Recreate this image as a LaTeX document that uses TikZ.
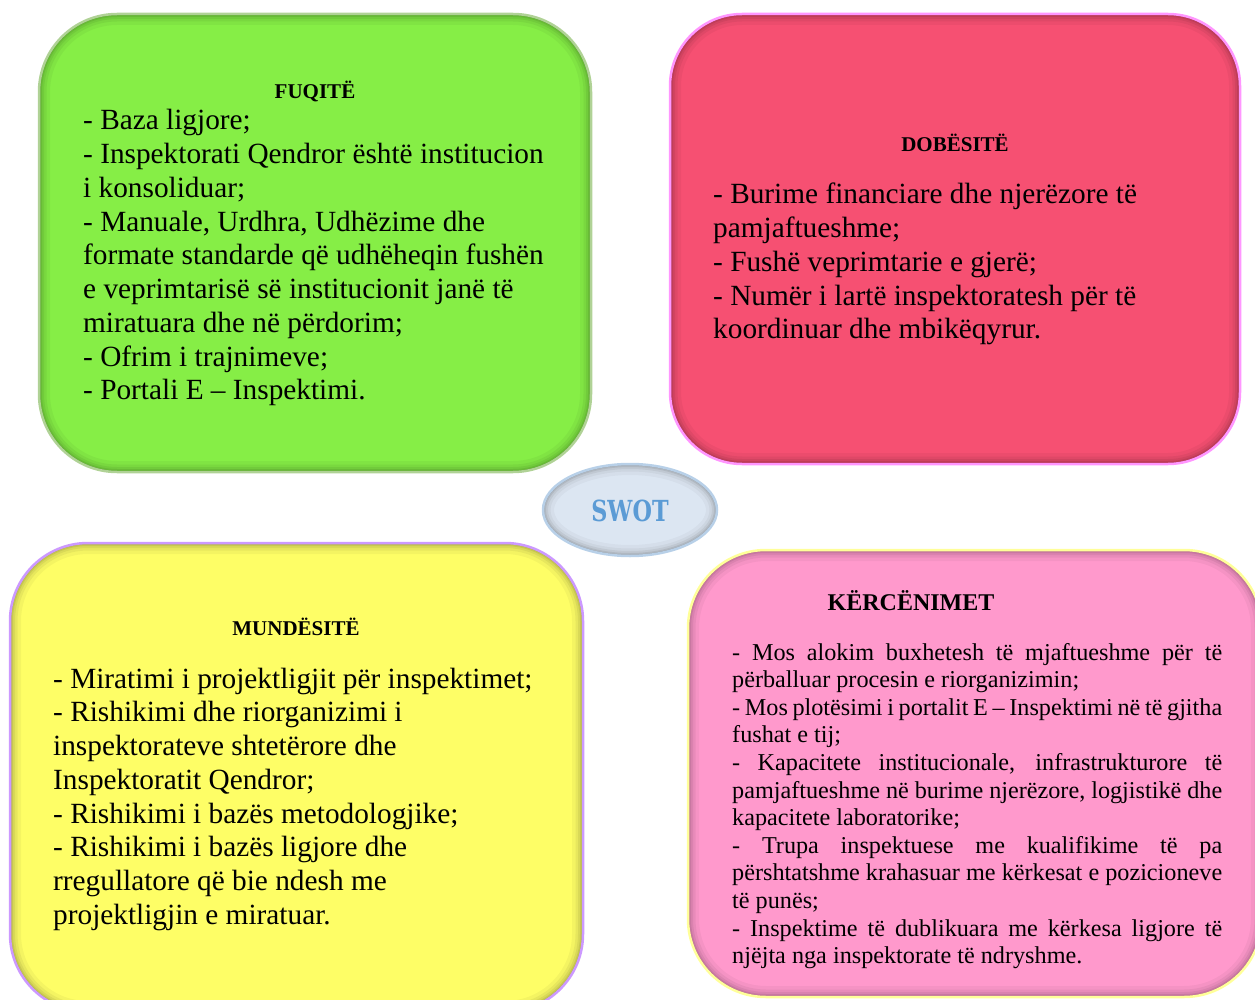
\documentclass[tikz,border=0pt]{standalone}
\usepackage{fontspec}
\setmainfont{Liberation Serif}
\newfontfamily\swotfont{DejaVu Serif}[FakeStretch=0.77]
\definecolor{gfill}{RGB}{134,238,70}
\definecolor{gline}{RGB}{176,210,150}
\definecolor{rfill}{RGB}{246,80,114}
\definecolor{rline}{RGB}{255,150,255}
\definecolor{yfill}{RGB}{254,254,102}
\definecolor{yline}{RGB}{204,153,255}
\definecolor{pfill}{RGB}{255,153,204}
\definecolor{pline}{RGB}{255,255,153}
\definecolor{efill}{RGB}{220,230,242}
\definecolor{eline}{RGB}{184,208,232}
\definecolor{swotblue}{RGB}{91,155,213}
\newcommand\swotbox[7]{%
  \fill[#6, rounded corners=#5] (#1,#2) rectangle (#3,#4);
  \begin{scope}
    \clip[rounded corners=#5] (#1,#2) rectangle (#3,#4);
    \foreach \ww/\op in {22/0.04,15/0.05,10/0.06,6/0.08,3/0.10}
      \draw[black, opacity=\op, line width=\ww pt, rounded corners=#5] (#1,#2) rectangle (#3,#4);
  \end{scope}
  \draw[#7, line width=2.5pt, rounded corners=#5] (#1,#2) rectangle (#3,#4);
}
\tikzset{
  ttl/.style={anchor=base, inner sep=0, font=\fontsize{21}{25}\selectfont\bfseries},
  body/.style={anchor=base west, inner sep=0},
}
\begin{document}
\begin{tikzpicture}[x=1pt,y=-1pt]
\useasboundingbox (0,0) rectangle (1255,1000);
\clip (0,0) rectangle (1255,1000);
\fill[white] (0,0) rectangle (1255,1000);

% boxes
\swotbox{39}{14}{591}{472}{78}{gfill}{gline}
\swotbox{670}{14}{1240}{464}{72}{rfill}{rline}
\swotbox{10}{543}{583}{1012}{78}{yfill}{yline}
\swotbox{688}{550}{1262}{997}{78}{pfill}{pline}

% SWOT ellipse
\fill[efill] (630,510) ellipse [x radius=87, y radius=46];
\begin{scope}
  \clip (630,510) ellipse [x radius=87, y radius=46];
  \foreach \ww/\op in {22/0.03,15/0.04,10/0.06,6/0.08,3/0.10}
    \draw[black, opacity=\op, line width=\ww pt] (630,510) ellipse [x radius=87, y radius=46];
\end{scope}
\draw[eline, line width=2.5pt] (630,510) ellipse [x radius=87, y radius=46];
\node[anchor=base, inner sep=0, text=swotblue, font=\swotfont\bfseries\fontsize{29}{31}\selectfont] (swot) at (630,521) {SWOT};

% FUQITE
\node[ttl] (fuqTitle) at (315,99) {FUQITË};
\node[body] (fuqBody) at (83,130) {\parbox[t]{520pt}{\fontsize{29.3}{33.75}\selectfont\raggedright
- Baza ligjore;\\
- Inspektorati Qendror është institucion\\
i konsoliduar;\\
- Manuale, Urdhra, Udhëzime dhe\\
formate standarde që udhëheqin fushën\\
e veprimtarisë së institucionit janë të\\
miratuara dhe në përdorim;\\
- Ofrim i trajnimeve;\\
- Portali E – Inspektimi.}};

% DOBESITE
\node[ttl] (dobTitle) at (955,152) {DOBËSITË};
\node[body] (dobBody) at (713,204) {\parbox[t]{520pt}{\fontsize{29.3}{33.75}\selectfont\raggedright
- Burime financiare dhe njerëzore të\\
pamjaftueshme;\\
- Fushë veprimtarie e gjerë;\\
- Numër i lartë inspektoratesh për të\\
koordinuar dhe mbikëqyrur.}};

% MUNDESITE
\node[ttl] (munTitle) at (296,635) {MUNDËSITË};
\node[body] (munBody) at (53,688) {\parbox[t]{540pt}{\fontsize{29.3}{33.75}\selectfont\raggedright
- Miratimi i projektligjit për inspektimet;\\
- Rishikimi dhe riorganizimi i\\
inspektorateve shtetërore dhe\\
Inspektoratit Qendror;\\
- Rishikimi i bazës metodologjike;\\
- Rishikimi i bazës ligjore dhe\\
rregullatore që bie ndesh me\\
projektligjin e miratuar.}};

% KERCENIMET
\node[ttl, font=\fontsize{24}{28}\selectfont\bfseries] (kerTitle) at (911,610) {KËRCËNIMET};
\node[body] (kerBody) at (732,660) {\parbox[t]{490pt}{\fontsize{24.2}{27.6}\selectfont
- Mos alokim buxhetesh të mjaftueshme për të\linebreak
përballuar procesin e riorganizimin;\par
- Mos plotësimi i portalit E – Inspektimi në të gjitha\linebreak
fushat e tij;\par
- Kapacitete institucionale, infrastrukturore të\linebreak
pamjaftueshme në burime njerëzore, logjistikë dhe\linebreak
kapacitete laboratorike;\par
- Trupa inspektuese me kualifikime të pa\linebreak
përshtatshme krahasuar me kërkesat e pozicioneve\linebreak
të punës;\par
- Inspektime të dublikuara me kërkesa ligjore të\linebreak
njëjta nga inspektorate të ndryshme.}};
\end{tikzpicture}
\end{document}
